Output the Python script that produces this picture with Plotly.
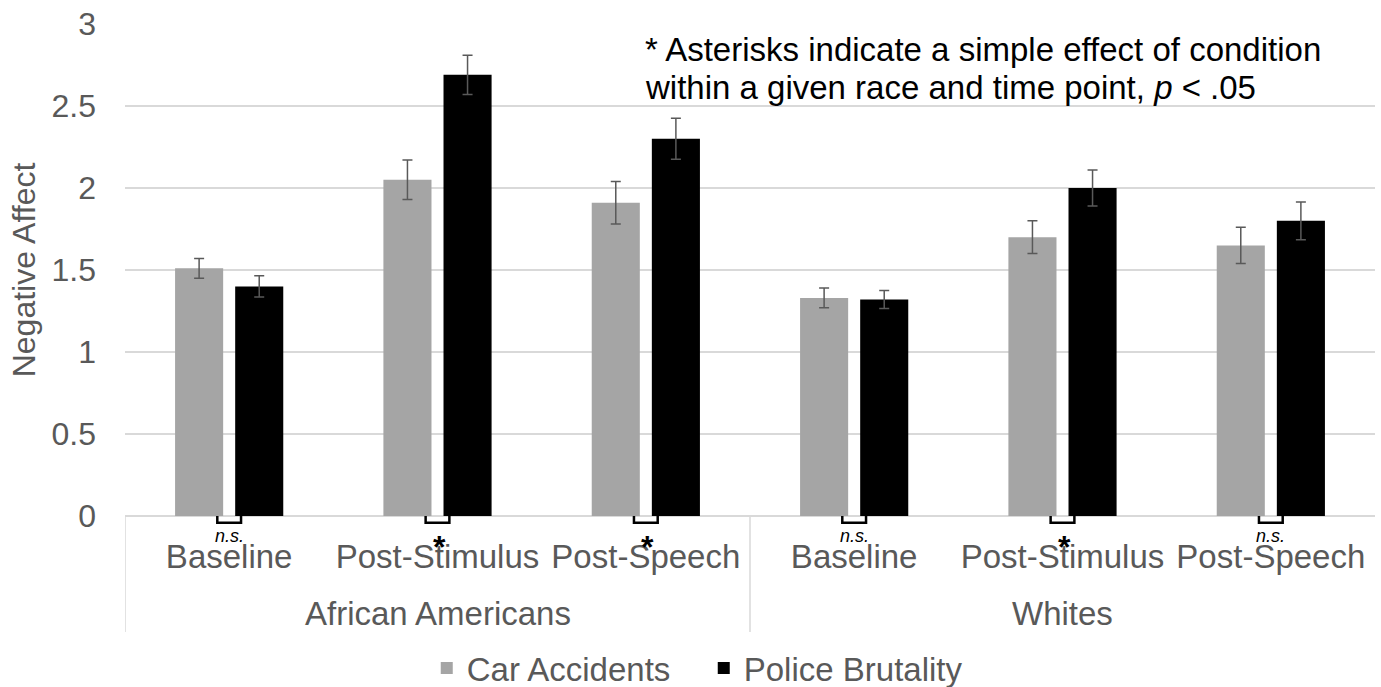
import plotly.graph_objects as go

# Time points within each race group
groups = ["African Americans", "Whites"]
time_points = ["Baseline", "Post-Stimulus", "Post-Speech",
               "Baseline", "Post-Stimulus", "Post-Speech"]

# Mean negative affect by condition
car_accidents = [1.51, 2.05, 1.91, 1.33, 1.70, 1.65]
police_brutality = [1.40, 2.69, 2.30, 1.32, 2.00, 1.80]

# Standard errors
car_se = [0.06, 0.12, 0.13, 0.06, 0.10, 0.11]
police_se = [0.065, 0.12, 0.125, 0.055, 0.11, 0.115]

# Simple-effect markers per time point
markers = ["n.s.", "*", "*", "n.s.", "*", "n.s."]

x = list(range(len(time_points)))
FONT = "Liberation Sans, Arial, sans-serif"
TXT = "#595959"
GRID = "#d9d9d9"

fig = go.Figure()
fig.add_trace(go.Bar(
    x=x, y=car_accidents, name="Car Accidents",
    marker=dict(color="#a5a5a5", line=dict(width=0)),
    error_y=dict(type="data", array=car_se, color=TXT, thickness=1.5, width=5),
))
fig.add_trace(go.Bar(
    x=x, y=police_brutality, name="Police Brutality",
    marker=dict(color="#000000", line=dict(width=0)),
    error_y=dict(type="data", array=police_se, color=TXT, thickness=1.5, width=5),
))

shapes = []
annotations = []

# Brackets and significance markers below the axis
for i, m in enumerate(markers):
    shapes.append(dict(
        type="path", xref="x", yref="paper",
        path=f"M {i-0.057},0 L {i-0.057},-0.0135 L {i+0.057},-0.0135 L {i+0.057},0",
        line=dict(color="#000000", width=2.5),
    ))
    if m == "*":
        annotations.append(dict(
            x=i + 0.01, y=-0.022, xref="x", yref="paper", text="<b>*</b>",
            showarrow=False, yanchor="top", font=dict(family=FONT, size=32, color="#000000"),
        ))
    else:
        annotations.append(dict(
            x=i, y=-0.016, xref="x", yref="paper", text="<i>n.s.</i>",
            showarrow=False, yanchor="top", font=dict(family=FONT, size=18, color="#000000"),
        ))

# Group dividers under the axis
for xv in [-0.5, 2.5]:
    shapes.append(dict(
        type="line", xref="x", yref="paper", x0=xv, x1=xv, y0=0, y1=-0.236,
        line=dict(color=GRID, width=1.5),
    ))

# Group labels
for gx, g in zip([1, 4], groups):
    annotations.append(dict(
        x=gx, y=-0.199, xref="x", yref="paper", text=g, showarrow=False,
        yanchor="middle", font=dict(family=FONT, size=33, color=TXT),
    ))

# Note in the upper right
annotations.append(dict(
    x=0.414, y=0.99, xref="paper", yref="paper", xanchor="left", yanchor="top",
    text="* Asterisks indicate a simple effect of condition", showarrow=False,
    font=dict(family=FONT, size=33, color="#000000"),
))
annotations.append(dict(
    x=0.414, y=0.913, xref="paper", yref="paper", xanchor="left", yanchor="top",
    text="within a given race and time point, <i>p</i> < .05", showarrow=False,
    font=dict(family=FONT, size=33, color="#000000"),
))

fig.update_layout(
    width=1381, height=687,
    margin=dict(l=125, r=6, t=24, b=171, autoexpand=False),
    paper_bgcolor="white", plot_bgcolor="white",
    barmode="group", bargap=0.423, bargroupgap=0.2,
    font=dict(family=FONT, color=TXT),
    shapes=shapes, annotations=annotations,
    showlegend=True,
    legend=dict(
        orientation="h", x=0.463, xanchor="center", y=-0.309, yanchor="middle",
        font=dict(family=FONT, size=33, color=TXT), entrywidth=232,
        bgcolor="rgba(0,0,0,0)",
    ),
    xaxis=dict(
        range=[-0.5, 5.5], tickvals=x, ticktext=time_points,
        showgrid=False, zeroline=False, showline=False, ticks="",
        ticklabelstandoff=18,
        tickfont=dict(family=FONT, size=33, color=TXT),
    ),
    yaxis=dict(
        range=[0, 3], dtick=0.5, tickformat="~g",
        showgrid=True, gridcolor=GRID, gridwidth=1.5,
        zeroline=True, zerolinecolor=GRID, zerolinewidth=1.5,
        showline=False, ticks="", ticklabelstandoff=28,
        tickfont=dict(family=FONT, size=32, color=TXT),
        title=dict(text="Negative Affect", standoff=6,
                   font=dict(family=FONT, size=32, color=TXT)),
    ),
)

fig.write_html("out.html")
